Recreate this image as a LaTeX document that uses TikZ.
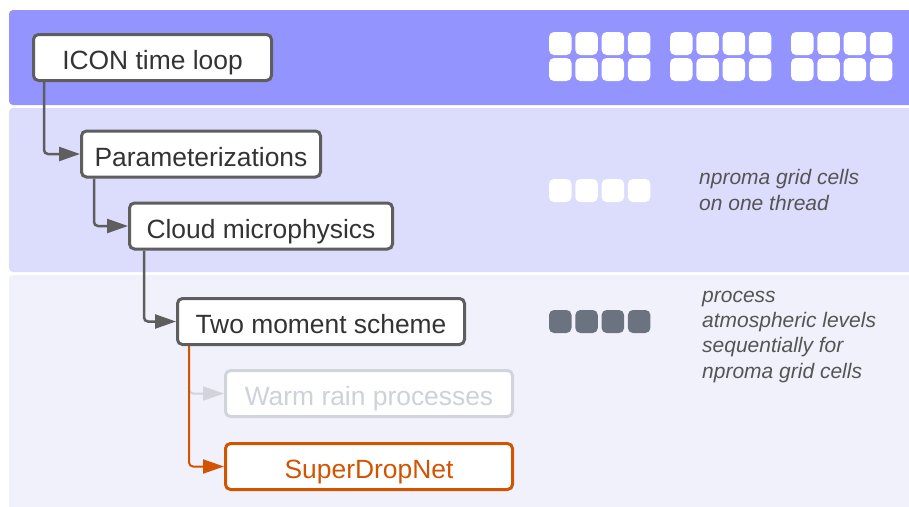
\documentclass[tikz,border=0pt]{standalone}
\usepackage{fontspec}
\setmainfont{Liberation Sans}
\usetikzlibrary{arrows.meta}
\definecolor{bandA}{HTML}{9494FF}
\definecolor{bandB}{HTML}{DCDCFC}
\definecolor{bandC}{HTML}{F1F1FC}
\definecolor{edge}{HTML}{5E5E5E}
\definecolor{txt}{HTML}{333333}
\definecolor{faint}{HTML}{D1D5DB}
\definecolor{faintt}{HTML}{CDD2DA}
\definecolor{orng}{HTML}{D35400}
\definecolor{cellg}{HTML}{6B7280}
\definecolor{note}{HTML}{555555}
\tikzset{
  box/.style={draw=edge, line width=3pt, fill=white, rounded corners=5pt,
    text=txt, font=\fontsize{26.4}{31}\selectfont, text height=24pt, text depth=0pt,
    minimum height=46pt, inner sep=0pt},
  conn/.style={draw=edge, line width=2.5pt, rounded corners=4pt,
    -{Triangle[length=21pt,width=14pt]}},
  cell/.style={rounded corners=5pt},
  notetext/.style={anchor=base west, inner sep=0pt, text=note,
    font=\fontsize{21}{26}\selectfont\itshape}
}
\begin{document}
\begin{tikzpicture}[x=1pt,y=-1pt]
\useasboundingbox (0,0) rectangle (909,506);
\clip (0,0) rectangle (909,506);
% bands
\fill[bandA, rounded corners=4pt] (9,10) rectangle (916,105);
\fill[bandB, rounded corners=4pt] (9,108) rectangle (916,272);
\fill[bandC, rounded corners=4pt] (9,275) rectangle (916,515);
% cells in top band
\foreach \gx in {549,670,791}{
  \foreach \i in {0,1,2,3}{
    \foreach \gy in {32,58}{
      \fill[white, cell] (\gx+\i*26.3,\gy) rectangle ++(22.5,23);
    }
  }
}
% cells in middle band
\foreach \i in {0,1,2,3}{
  \fill[white, cell] (549+\i*26.3,179) rectangle ++(22.5,23);
}
% cells in bottom band
\foreach \i in {0,1,2,3}{
  \fill[cellg, cell] (549+\i*26.3,310) rectangle ++(22.5,23);
}
% nodes
\node[box, minimum width=238pt] (icon) at (152.5,57.5) {ICON time loop};
\node[box, minimum width=239pt] (param) at (201,154) {Parameterizations};
\node[box, minimum width=263pt] (cloud) at (261,226) {Cloud microphysics};
\node[box, minimum width=287pt] (two) at (321,321.5) {Two moment scheme};
\node[box, minimum width=287pt, draw=faint, text=faintt] (warm) at (369,393.5) {Warm rain processes};
\node[box, minimum width=287pt, draw=orng, text=orng] (sdn) at (369,466.5) {SuperDropNet};
% connectors
\coordinate (s1) at ([xshift=12pt]icon.south west);
\coordinate (s2) at ([xshift=14pt]param.south west);
\coordinate (s3) at ([xshift=16pt]cloud.south west);
\coordinate (s4) at ([xshift=13pt]two.south west);
\draw[conn] (s1) |- (param.west);
\draw[conn] (s2) |- (cloud.west);
\draw[conn] (s3) |- (two.west);
\draw[conn, draw=faint, line width=2pt] (s4) |- (warm.west);
\draw[conn, draw=orng, line width=2pt] (s4) |- (sdn.west);
% notes
\node[notetext] (n1) at (699,184) {nproma grid cells};
\node[notetext] (n2) at (699,210) {on one thread};
\node[notetext] (n3) at (702,302) {process};
\node[notetext] (n4) at (702,327) {atmospheric levels};
\node[notetext] (n5) at (702,352) {sequentially for};
\node[notetext] (n6) at (702,378) {nproma grid cells};
\end{tikzpicture}
\end{document}
